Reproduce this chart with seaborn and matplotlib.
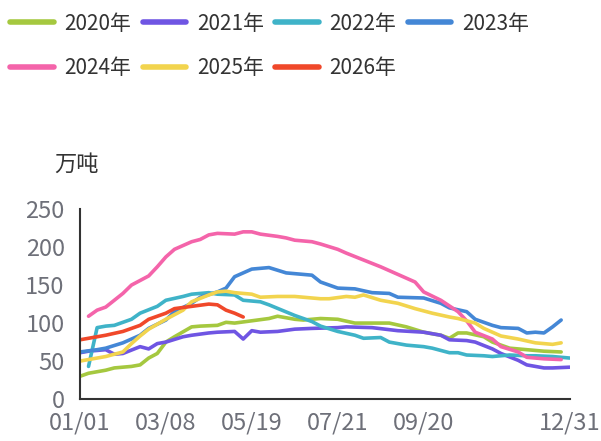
import pandas as pd
import numpy as np
import matplotlib.pyplot as plt
import seaborn as sns
from matplotlib.lines import Line2D

sns.set_theme(style="white")
plt.rcParams['font.family'] = ['Noto Sans CJK SC', 'DejaVu Sans']

# category axis: 58 dates, label every 10th
tick_idx = [0, 10, 20, 30, 40, 50, 57]
tick_labels = ['01/01', '03/08', '05/19', '07/21', '09/20', '', '12/31']

years = ['2020年', '2021年', '2022年', '2023年', '2024年', '2025年', '2026年']
colors = ['#a5c83f', '#6f55e3', '#3fb3c8', '#4487d6', '#f464aa', '#f2d44e', '#f0482a']

x_2020 = [0, 1, 3, 4, 6, 7, 8, 9, 10, 11, 13, 14, 16, 17, 18, 20, 22, 23, 25, 26, 28, 30,
          32, 34, 36, 38, 40, 42, 43, 44, 45, 47, 48, 50, 52, 54, 56]
v_2020 = [30, 34, 38, 41, 43, 45, 54, 60, 75, 82, 95, 96, 97, 101, 100, 103, 106, 109, 105, 104, 106, 105,
          100, 100, 100, 95, 88, 84, 80, 87, 87, 82, 75, 67, 65, 63, 62]

x_2021 = [0, 1, 3, 4, 5, 7, 8, 9, 10, 12, 13, 15, 16, 18, 19, 20, 21, 23, 25, 27, 30, 31,
          34, 37, 40, 42, 43, 45, 46, 48, 49, 51, 52, 54, 55, 57]
v_2021 = [61, 63, 65, 59, 60, 69, 66, 73, 75, 82, 84, 87, 88, 89, 79, 90, 88, 89, 92, 93, 94, 95,
          94, 90, 88, 84, 78, 77, 75, 66, 60, 51, 45, 41, 41, 42]

x_2022 = [1, 2, 3, 4, 6, 7, 9, 10, 12, 13, 15, 16, 18, 19, 21, 22, 25, 27, 28, 30, 32, 33,
          35, 36, 38, 40, 41, 43, 44, 45, 47, 48, 50, 52, 53, 55, 57]
v_2022 = [43, 94, 96, 97, 105, 113, 122, 130, 135, 138, 140, 138, 137, 130, 128, 124, 110, 102, 96, 89, 84, 80,
          81, 75, 71, 69, 67, 61, 61, 58, 57, 56, 58, 57, 57, 56, 54]

x_2023 = [0, 2, 3, 5, 7, 8, 10, 11, 13, 14, 16, 17, 18, 19, 20, 22, 24, 27, 28, 30, 32, 34,
          36, 37, 40, 42, 43, 45, 46, 48, 49, 51, 52, 53, 54, 55, 56]
v_2023 = [62, 65, 67, 74, 84, 93, 104, 115, 126, 134, 141, 146, 161, 166, 171, 173, 166, 163, 154, 146, 145, 140,
          139, 134, 133, 126, 120, 115, 105, 97, 94, 93, 87, 88, 87, 95, 104]

x_2024 = [1, 2, 3, 4, 5, 6, 8, 9, 10, 11, 13, 14, 15, 16, 18, 19, 20, 21, 23, 24, 25, 27,
          28, 30, 31, 33, 35, 37, 39, 40, 42, 44, 45, 46, 48, 49, 51, 52, 54, 56]
v_2024 = [109, 117, 121, 130, 139, 150, 162, 174, 187, 197, 207, 210, 216, 218, 217, 220, 220, 217, 214, 212, 209, 207,
          204, 197, 192, 183, 174, 164, 154, 141, 130, 115, 103, 88, 79, 69, 62, 55, 53, 52]

x_2025 = [0, 1, 3, 5, 6, 7, 8, 10, 12, 13, 15, 16, 17, 18, 20, 21, 23, 25, 26, 28, 29, 31,
          32, 33, 35, 37, 39, 41, 43, 44, 46, 47, 49, 51, 53, 55, 56]
v_2025 = [50, 52, 56, 62, 73, 83, 92, 105, 117, 128, 137, 141, 142, 140, 138, 134, 135, 135, 134, 132, 132, 135,
          134, 137, 130, 126, 119, 113, 108, 106, 100, 93, 83, 79, 74, 72, 74]

x_2026 = [0, 1, 3, 5, 7, 8, 10, 11, 13, 15, 16, 17, 18, 19]
v_2026 = [78, 80, 84, 89, 97, 105, 113, 119, 122, 125, 124, 117, 113, 108]

series_x = [x_2020, x_2021, x_2022, x_2023, x_2024, x_2025, x_2026]
series_v = [v_2020, v_2021, v_2022, v_2023, v_2024, v_2025, v_2026]

df = pd.concat(
    [pd.DataFrame({'idx': xs, 'value': vs, 'year': y}) for xs, vs, y in zip(series_x, series_v, years)],
    ignore_index=True)

fig = plt.figure(figsize=(6.01, 4.41), dpi=100)
ax = fig.add_axes([0.133, 0.095, 0.815, 0.431])

sns.lineplot(data=df, x='idx', y='value', hue='year', hue_order=years, palette=colors,
             linewidth=2.6, legend=False, ax=ax)

ax.set_xlim(0, 57)
ax.set_ylim(0, 250)
ax.set_yticks([0, 50, 100, 150, 200, 250])
ax.set_xticks(tick_idx)
ax.set_xticklabels(tick_labels)
ax.set_xlabel('')
ax.set_ylabel('')

for side in ['top', 'right']:
    ax.spines[side].set_visible(False)
for side in ['left', 'bottom']:
    ax.spines[side].set_color('#333333')
    ax.spines[side].set_linewidth(1.5)

ax.tick_params(axis='x', direction='out', length=6, width=1.5, color='#333333',
               labelsize=17, labelcolor='#6e7079', pad=3)
ax.tick_params(axis='y', direction='in', length=8, width=1.5, color='#333333',
               labelsize=17, labelcolor='#6e7079', pad=11)

fig.text(0.128, 0.628, '万吨', fontsize=16, color='#333333', ha='center', va='center')

# legend laid out row by row
order = [0, 4, 1, 5, 2, 6, 3]
handles = [Line2D([], [], color=colors[i], linewidth=4) for i in order]
labels = [years[i] for i in order]
fig.legend(handles, labels, loc='upper left', bbox_to_anchor=(-0.004, 1.0), ncol=4, frameon=False,
           fontsize=15, handlelength=2.1, handletextpad=0.5, columnspacing=0.55,
           labelspacing=1.1, borderaxespad=0.2, labelcolor='#333333')

fig.savefig('out.png', dpi=100)
